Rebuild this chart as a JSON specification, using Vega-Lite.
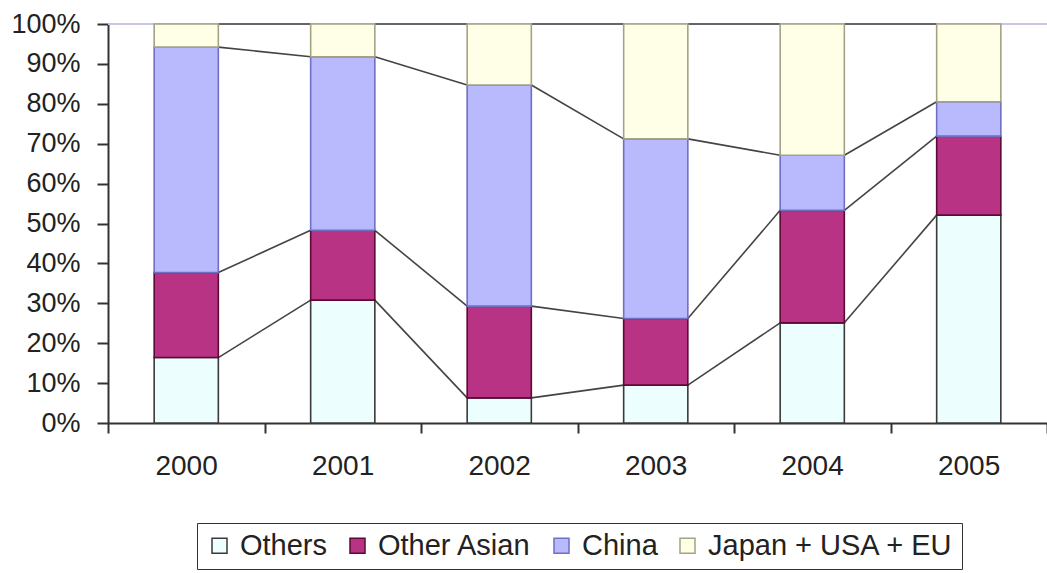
{
  "$schema": "https://vega.github.io/schema/vega-lite/v6.json",
  "width": 939,
  "height": 399,
  "autosize": {"type": "none"},
  "padding": {"left": 108, "top": 24, "right": 0, "bottom": 150},
  "background": "white",
  "config": {
    "view": {"stroke": null},
    "font": "Liberation Sans",
    "axisY": {
      "title": null,
      "values": [0, 10, 20, 30, 40, 50, 60, 70, 80, 90, 100],
      "labelExpr": "datum.value + '%'",
      "labelOverlap": false,
      "labelFont": "Liberation Sans",
      "labelFontSize": 27,
      "labelColor": "#222222",
      "labelPadding": 17,
      "tickSize": 11,
      "tickColor": "#333333",
      "tickWidth": 2,
      "domainColor": "#333333",
      "domainWidth": 2,
      "grid": false
    }
  },
  "data": {
    "values": [
      {"year": "2000", "region": "Others", "share": 16.4},
      {"year": "2000", "region": "Other Asian", "share": 21.3},
      {"year": "2000", "region": "China", "share": 56.5},
      {"year": "2000", "region": "Japan + USA + EU", "share": 5.8},
      {"year": "2001", "region": "Others", "share": 30.8},
      {"year": "2001", "region": "Other Asian", "share": 17.5},
      {"year": "2001", "region": "China", "share": 43.5},
      {"year": "2001", "region": "Japan + USA + EU", "share": 8.2},
      {"year": "2002", "region": "Others", "share": 6.3},
      {"year": "2002", "region": "Other Asian", "share": 23.0},
      {"year": "2002", "region": "China", "share": 55.4},
      {"year": "2002", "region": "Japan + USA + EU", "share": 15.3},
      {"year": "2003", "region": "Others", "share": 9.5},
      {"year": "2003", "region": "Other Asian", "share": 16.7},
      {"year": "2003", "region": "China", "share": 45.0},
      {"year": "2003", "region": "Japan + USA + EU", "share": 28.8},
      {"year": "2004", "region": "Others", "share": 25.1},
      {"year": "2004", "region": "Other Asian", "share": 28.2},
      {"year": "2004", "region": "China", "share": 13.8},
      {"year": "2004", "region": "Japan + USA + EU", "share": 32.9},
      {"year": "2005", "region": "Others", "share": 52.1},
      {"year": "2005", "region": "Other Asian", "share": 19.8},
      {"year": "2005", "region": "China", "share": 8.6},
      {"year": "2005", "region": "Japan + USA + EU", "share": 19.5}
    ]
  },
  "transform": [
    {"calculate": "indexof(['Others', 'Other Asian', 'China', 'Japan + USA + EU'], datum.region)", "as": "k"},
    {"stack": "share", "groupby": ["year"], "sort": [{"field": "k", "order": "ascending"}], "as": ["lo", "hi"]}
  ],
  "layer": [
    {
      "data": {"values": [{}]},
      "mark": {"type": "rule", "color": "#c6c6e6", "strokeWidth": 2},
      "encoding": {
        "y": {"datum": 100, "type": "quantitative", "scale": {"domain": [0, 100], "nice": false}}
      }
    },
    {
      "transform": [
        {"window": [{"op": "lead", "field": "hi", "as": "hiNext"}, {"op": "lead", "field": "year", "as": "yearNext"}], "groupby": ["region"], "sort": [{"field": "year", "order": "ascending"}]},
        {"filter": "datum.yearNext != null"}
      ],
      "mark": {"type": "rule", "color": "#444444", "strokeWidth": 1.6},
      "encoding": {
        "x": {"field": "year", "type": "ordinal", "bandPosition": 0.705},
        "x2": {"field": "yearNext", "bandPosition": 0.295},
        "y": {"field": "hi", "type": "quantitative"},
        "y2": {"field": "hiNext"}
      }
    },
    {
      "mark": {"type": "bar", "width": {"band": 0.41}, "strokeWidth": 1.6, "fillOpacity": 1},
      "encoding": {
        "x": {
          "field": "year",
          "type": "ordinal",
          "scale": {"paddingInner": 0, "paddingOuter": 0},
          "axis": {
            "title": null,
            "labelAngle": 0,
            "labelFont": "Liberation Sans",
            "labelFontSize": 28,
            "labelColor": "#222222",
            "labelPadding": 33,
            "labelOffset": 31,
            "tickBand": "extent",
            "tickSize": 10,
            "tickColor": "#333333",
            "tickWidth": 2,
            "domainColor": "#333333",
            "domainWidth": 2
          }
        },
        "y": {
          "field": "hi",
          "type": "quantitative",
          "scale": {"domain": [0, 100], "nice": false}
        },
        "y2": {"field": "lo"},
        "fill": {
          "field": "region",
          "type": "nominal",
          "scale": {
            "domain": ["Others", "Other Asian", "China", "Japan + USA + EU"],
            "range": ["#ecfffe", "#b93385", "#b9b9fd", "#ffffe8"]
          },
          "legend": {
            "title": null,
            "orient": "none",
            "legendX": 89,
            "legendY": 499,
            "direction": "horizontal",
            "columns": 4,
            "strokeColor": "#333333",
            "padding": 8,
            "symbolType": "square",
            "symbolSize": 225,
            "symbolStrokeWidth": 1.5,
            "labelFont": "Liberation Sans",
            "labelFontSize": 29,
            "labelColor": "#222222",
            "labelLimit": 500,
            "labelOffset": 6,
            "columnPadding": 15
          }
        },
        "stroke": {
          "field": "region",
          "type": "nominal",
          "scale": {
            "domain": ["Others", "Other Asian", "China", "Japan + USA + EU"],
            "range": ["#3a3a3a", "#5c0a35", "#6f6fc4", "#a3a384"]
          },
          "legend": {
            "title": null,
            "orient": "none",
            "legendX": 89,
            "legendY": 499,
            "direction": "horizontal",
            "columns": 4,
            "strokeColor": "#333333",
            "padding": 8,
            "symbolType": "square",
            "symbolSize": 225,
            "symbolStrokeWidth": 1.5,
            "labelFont": "Liberation Sans",
            "labelFontSize": 29,
            "labelColor": "#222222",
            "labelLimit": 500,
            "labelOffset": 6,
            "columnPadding": 15
          }
        }
      }
    }
  ]
}
